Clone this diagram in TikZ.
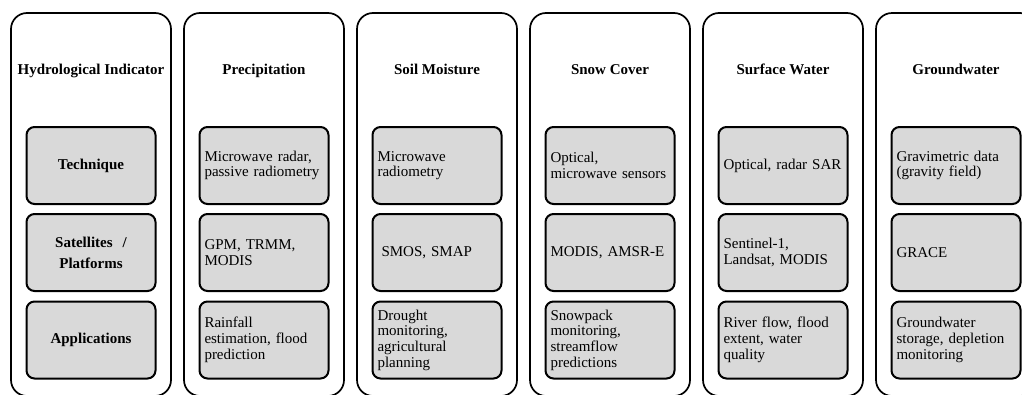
\documentclass[tikz,border=0pt]{standalone}
\usepackage{fontspec}
\setmainfont{Liberation Serif}
\usetikzlibrary{positioning}

\definecolor{cellgray}{HTML}{D9D9D9}
\tikzset{
  colbox/.style={draw, line width=1.7pt, rounded corners=16pt, minimum width=160pt, minimum height=383pt, inner sep=0pt},
  headtxt/.style={font=\bfseries\fontsize{15}{16}\selectfont, inner sep=0pt, anchor=base},
  cellbox/.style={draw, line width=2pt, rounded corners=8pt, fill=cellgray, minimum height=77pt, text width=119pt, inner xsep=5pt, inner ysep=0pt, align=left, font=\fontsize{15}{15.7}\selectfont},
  keycell/.style={cellbox, align=center, font=\bfseries\fontsize{15}{21}\selectfont}
}

\begin{document}
\begin{tikzpicture}[x=1pt, y=-1pt]
      \useasboundingbox (0, 0) rectangle (1022, 394);
      % columns
      \node[colbox] (col1) at (91, 204.5) {};
      \node[colbox] (col2) at (264, 204.5) {};
      \node[colbox] (col3) at (437, 204.5) {};
      \node[colbox] (col4) at (610, 204.5) {};
      \node[colbox] (col5) at (783, 204.5) {};
      \node[colbox] (col6) at (956, 204.5) {};
      % headers
      \node[headtxt] (head1) at (91, 74) {Hydrological Indicator};
      \node[headtxt] (head2) at (264, 74) {Precipitation};
      \node[headtxt] (head3) at (437, 74) {Soil Moisture};
      \node[headtxt] (head4) at (610, 74) {Snow Cover};
      \node[headtxt] (head5) at (783, 74) {Surface Water};
      \node[headtxt] (head6) at (956, 74) {Groundwater};
      % first column
      \node[keycell] (tech1) at (91, 165.5) {Technique};
      \node[keycell] (sat1) at (91, 252.5) {Satellites\ \ /\\Platforms};
      \node[keycell] (app1) at (91, 340) {Applications};
      % precipitation
      \node[cellbox] (tech2) at (264, 165.5) {Microwave radar,\\passive radiometry};
      \node[cellbox] (sat2) at (264, 252.5) {GPM, TRMM,\\MODIS};
      \node[cellbox] (app2) at (264, 340) {Rainfall\\estimation, flood\\prediction};
      % soil moisture
      \node[cellbox] (tech3) at (437, 165.5) {Microwave\\radiometry};
      \node[cellbox] (sat3) at (437, 252.5) {\hspace{4pt}SMOS, SMAP};
      \node[cellbox] (app3) at (437, 340) {Drought\\monitoring,\\agricultural\\planning};
      % snow cover
      \node[cellbox] (tech4) at (610, 165.5) {Optical,\\microwave sensors};
      \node[cellbox] (sat4) at (610, 252.5) {MODIS, AMSR-E};
      \node[cellbox] (app4) at (610, 340) {Snowpack\\monitoring,\\streamflow\\predictions};
      % surface water
      \node[cellbox] (tech5) at (783, 165.5) {Optical, radar SAR};
      \node[cellbox] (sat5) at (783, 252.5) {Sentinel-1,\\Landsat, MODIS};
      \node[cellbox] (app5) at (783, 340) {River flow, flood\\extent, water\\quality};
      % groundwater
      \node[cellbox] (tech6) at (956, 165.5) {Gravimetric data\\(gravity field)};
      \node[cellbox] (sat6) at (956, 252.5) {GRACE};
      \node[cellbox] (app6) at (956, 340) {Groundwater\\storage, depletion\\monitoring};
\end{tikzpicture}
\end{document}
